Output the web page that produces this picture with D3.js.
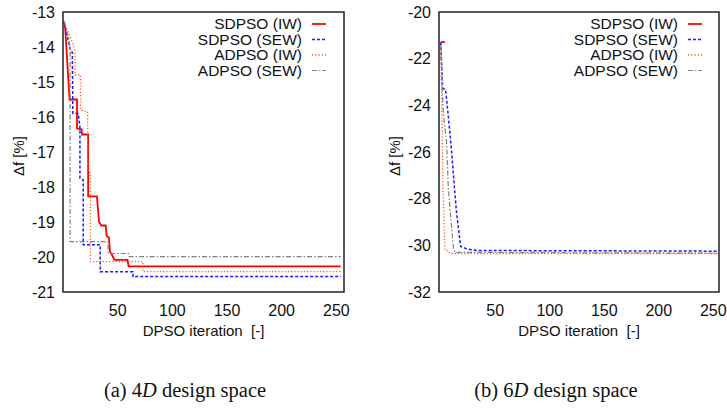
<!DOCTYPE html>
<html>
<head>
<meta charset="utf-8">
<script src="https://cdn.jsdelivr.net/npm/d3@7"></script>
<style>
  html, body { margin: 0; padding: 0; background: #fff; }
  svg { display: block; }
  .tick-label, .axis-title, .legend-text { font-family: "Liberation Sans", Arial, sans-serif; fill: #111; }
  .caption { font-family: "Liberation Serif", "DejaVu Serif", serif; fill: #111; }
</style>
</head>
<body>
<svg id="chart" width="727" height="413"></svg>
<script>
// Series names and styles (legend order)
const seriesNames = ["SDPSO (IW)", "SDPSO (SEW)", "ADPSO (IW)", "ADPSO (SEW)"];

// Convergence histories, 4D design space: [iteration, Δf %]
const sdpsoIW4 = [[1,-13.3],[2,-13.45],[6,-15.5],[12.8,-15.5],[12.8,-16.33],[17,-16.35],[17.5,-16.5],[23,-16.5],[23,-18.27],[31,-18.27],[33,-19.0],[35,-19.1],[39,-19.1],[40,-19.4],[42,-19.45],[43,-19.85],[45,-19.95],[47,-20.08],[59,-20.08],[60,-20.27],[254,-20.27]];
const sdpsoSEW4 = [[1,-13.3],[4,-13.7],[7,-14.1],[8.5,-14.15],[9,-15.9],[14,-15.9],[15.5,-16.3],[15.5,-17.75],[18.5,-17.8],[18.5,-19.65],[34,-19.65],[34,-20.42],[64,-20.42],[64,-20.56],[254,-20.56]];
const adpsoIW4 = [[1,-13.3],[5,-13.6],[9,-13.9],[11,-14.15],[11,-14.8],[16,-14.8],[16,-15.8],[22.5,-15.85],[23,-17.55],[25,-17.6],[25,-20.13],[73,-20.13],[73,-20.42],[254,-20.42]];
const adpsoSEW4 = [[1,-13.25],[3,-13.5],[5,-13.75],[6.5,-14.0],[6.5,-19.56],[41,-19.56],[41.5,-19.9],[60,-19.9],[60.5,-19.99],[254,-19.99]];

// Convergence histories, 6D design space
const sdpsoIW6 = [[0,-21.29],[3.8,-21.29]];
const sdpsoSEW6 = [[0,-21.3],[1.7,-23.25],[4.5,-23.35],[7,-24.5],[10,-26.0],[13,-27.8],[14.6,-28.65],[18.3,-30.05],[23.8,-30.15],[33,-30.22],[254,-30.25]];
const adpsoIW6 = [[0,-21.5],[1,-24],[2,-27.5],[3.9,-30.2],[7.5,-30.25],[8.5,-30.35],[254,-30.35]];
const adpsoSEW6 = [[0,-21.4],[2.3,-24.3],[5.4,-25.6],[6.9,-27.5],[9.1,-28.8],[11.5,-30.05],[13,-30.3],[254,-30.34]];

// Tick values
const xTicks = [50, 100, 150, 200, 250];
const yTicks4 = [-13, -14, -15, -16, -17, -18, -19, -20, -21];
const yTicks6 = [-20, -22, -24, -26, -28, -30, -32];

const captions = ["4D", "6D"];

const styles = [
  { color: "#ff0000", width: 1.8, dash: null },
  { color: "#1a1aff", width: 1.5, dash: "3,2" },
  { color: "#ff5a1f", width: 1.3, dash: "1.2,2" },
  { color: "#808080", width: 1.2, dash: "5,2,1.5,2" }
];

const svg = d3.select("#chart");

function panel(cfg) {
  const x = d3.scaleLinear().domain(cfg.xDomain).range([cfg.left, cfg.right]);
  const y = d3.scaleLinear().domain(cfg.yDomain).range([cfg.bottom, cfg.top]);
  const g = svg.append("g");

  const clipId = "clip" + cfg.id;
  svg.append("clipPath").attr("id", clipId).append("rect")
    .attr("x", cfg.left).attr("y", cfg.top)
    .attr("width", cfg.right - cfg.left).attr("height", cfg.bottom - cfg.top);

  const line = d3.line().x(d => x(d[0])).y(d => y(d[1]));
  const lines = g.append("g").attr("clip-path", `url(#${clipId})`);
  cfg.series.forEach((data, i) => {
    const s = styles[i];
    lines.append("path").datum(data)
      .attr("d", line)
      .attr("fill", "none")
      .attr("stroke", s.color)
      .attr("stroke-width", s.width)
      .attr("stroke-dasharray", s.dash)
      .attr("stroke-linejoin", "miter");
  });

  // frame
  g.append("rect")
    .attr("x", cfg.left).attr("y", cfg.top)
    .attr("width", cfg.right - cfg.left).attr("height", cfg.bottom - cfg.top)
    .attr("fill", "none").attr("stroke", "#222").attr("stroke-width", 1.5);

  // y tick labels
  g.selectAll(".ytl").data(cfg.yTicks).enter().append("text")
    .attr("class", "tick-label")
    .attr("x", cfg.left - 8).attr("y", d => y(d))
    .attr("dy", "0.35em").attr("text-anchor", "end")
    .attr("font-size", 16)
    .text(d => d3.format("d")(d).replace("−", "-"));

  // x tick labels
  g.selectAll(".xtl").data(xTicks).enter().append("text")
    .attr("class", "tick-label")
    .attr("x", d => x(d)).attr("y", cfg.bottom + 18)
    .attr("dy", "0.35em").attr("text-anchor", "middle")
    .attr("font-size", 16)
    .text(d => d);

  // axis titles
  g.append("text").attr("class", "axis-title")
    .attr("x", (cfg.left + cfg.right) / 2).attr("y", cfg.bottom + 39)
    .attr("dy", "0.35em").attr("text-anchor", "middle")
    .attr("font-size", 15)
    .attr("xml:space", "preserve")
    .text("DPSO iteration  [-]");
  g.append("text").attr("class", "axis-title")
    .attr("transform", `translate(${cfg.yTitleX},${(cfg.top + cfg.bottom) / 2 + 4}) rotate(-90)`)
    .attr("dy", "0.35em").attr("text-anchor", "middle")
    .attr("font-size", 15)
    .text("Δf [%]");

  // legend
  const lg = g.append("g");
  seriesNames.forEach((name, i) => {
    const yy = cfg.top + 12 + i * 15.5;
    lg.append("text").attr("class", "legend-text")
      .attr("x", cfg.legendX).attr("y", yy)
      .attr("dy", "0.35em").attr("text-anchor", "end")
      .attr("font-size", 15.5)
      .text(name);
    const s = styles[i];
    lg.append("line")
      .attr("x1", cfg.legendX + 10).attr("x2", cfg.legendX + 24)
      .attr("y1", yy).attr("y2", yy)
      .attr("stroke", s.color).attr("stroke-width", s.width)
      .attr("stroke-dasharray", s.dash);
  });

  // caption
  const cap = g.append("text").attr("class", "caption")
    .attr("x", cfg.captionX).attr("y", 390)
    .attr("dy", "0.35em").attr("text-anchor", "middle")
    .attr("font-size", 20.5);
  cap.append("tspan").text(cfg.captionPrefix + " " + cfg.dim.replace("D", ""));
  cap.append("tspan").attr("font-style", "italic").text("D");
  cap.append("tspan").text(" design space");
}

panel({
  id: "a", left: 63, right: 344, top: 12, bottom: 292,
  xDomain: [0, 257], yDomain: [-21, -13], yTicks: yTicks4,
  series: [sdpsoIW4, sdpsoSEW4, adpsoIW4, adpsoSEW4],
  legendX: 302, yTitleX: 19, captionX: 185, captionPrefix: "(a)", dim: captions[0]
});

panel({
  id: "b", left: 439, right: 719, top: 12, bottom: 292,
  xDomain: [-1.6, 255.2], yDomain: [-32, -20], yTicks: yTicks6,
  series: [sdpsoIW6, sdpsoSEW6, adpsoIW6, adpsoSEW6],
  legendX: 678, yTitleX: 395, captionX: 556, captionPrefix: "(b)", dim: captions[1]
});
</script>
</body>
</html>
